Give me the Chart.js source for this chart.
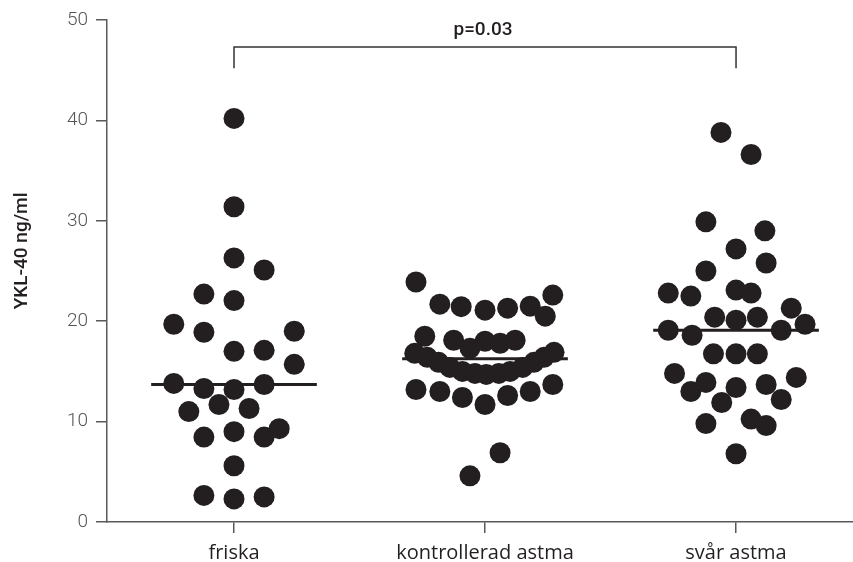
<!DOCTYPE html>
<html>
<head>
<meta charset="utf-8">
<script src="https://cdn.jsdelivr.net/npm/chart.js@4"></script>
<style>
  html, body { margin: 0; padding: 0; background: #fff; }
  #wrap { width: 853px; height: 562px; }
</style>
</head>
<body>
<div id="wrap"><canvas id="myChart"></canvas></div>
<script>
const categories = ['friska', 'kontrollerad astma', 'svår astma'];
const yTicks = [0, 10, 20, 30, 40, 50];
const yTitle = 'YKL-40 ng/ml';

// friska
const friskaValues = [40.2, 31.4, 26.3, 25.1, 22.7, 22.05, 19.7, 18.9, 19.0, 17.0, 17.1, 15.7,
    13.8, 13.3, 13.2, 13.7, 11.0, 11.7, 11.3, 8.46, 9.0, 8.46, 9.3, 5.6, 2.65, 2.3, 2.5];
const friskaSpread = [0, 0, 0, 0.12, -0.12, 0, -0.24, -0.12, 0.24, 0, 0.12, 0.24,
    -0.24, -0.12, 0, 0.12, -0.18, -0.06, 0.06, -0.12, 0, 0.12, 0.18, 0, -0.12, 0, 0.12];

// kontrollerad astma
const kontrollValues = [23.9, 21.7, 21.45, 21.1, 21.3, 21.5, 22.6, 20.5,
    18.5, 18.1, 17.3, 18.0, 17.8, 18.1,
    16.8, 16.4, 15.9, 15.4, 15.0, 14.8, 14.7, 14.8, 15.0, 15.4, 15.9, 16.4, 16.9,
    13.2, 13.0, 12.4, 11.7, 12.6, 13.0, 13.7, 6.9, 4.6];
const kontrollSpread = [-0.275, -0.18, -0.095, 0, 0.09, 0.18, 0.27, 0.24,
    -0.24, -0.125, -0.06, 0, 0.06, 0.12,
    -0.28, -0.23, -0.185, -0.14, -0.09, -0.04, 0.005, 0.055, 0.1, 0.15, 0.195, 0.235, 0.275,
    -0.275, -0.18, -0.09, 0, 0.09, 0.18, 0.27, 0.06, -0.06];

// svår astma
const svarValues = [38.8, 36.6, 29.9, 29.0, 27.2, 25.8, 25.0, 22.8, 22.5, 23.1, 22.8, 21.3,
    20.4, 20.1, 20.4, 19.7, 19.1, 18.6, 19.1, 16.75, 16.75, 16.75,
    14.8, 13.0, 13.9, 13.4, 13.7, 14.4, 11.9, 12.2, 9.8, 10.25, 9.6, 6.8];
const svarSpread = [-0.06, 0.06, -0.12, 0.115, 0, 0.12, -0.12, -0.27, -0.18, 0, 0.06, 0.22,
    -0.085, 0, 0.085, 0.275, -0.27, -0.175, 0.18, -0.09, 0, 0.085,
    -0.245, -0.18, -0.12, 0, 0.12, 0.24, -0.057, 0.18, -0.12, 0.06, 0.12, 0];

const medians = [13.7, 16.25, 19.1];
const pLabel = 'p=0.03';
const bracket = {from: 1, to: 3, low: 45.2, high: 47.3};

const groups = [
    [friskaValues, friskaSpread],
    [kontrollValues, kontrollSpread],
    [svarValues, svarSpread]
];

const ink = '#231f20';
const axisGrey = '#58595b';

const datasets = [];
groups.forEach(([vals, spread], i) => {
    datasets.push({
        type: 'scatter',
        data: vals.map((v, j) => ({x: i + 1 + spread[j], y: v})),
        backgroundColor: ink,
        borderWidth: 0,
        pointRadius: 10.5,
        pointHoverRadius: 10.5
    });
});
medians.forEach((m, i) => {
    datasets.push({
        type: 'line',
        data: [{x: i + 1 - 0.33, y: m}, {x: i + 1 + 0.33, y: m}],
        borderColor: ink,
        borderWidth: 3,
        pointRadius: 0
    });
});
datasets.push({
    type: 'line',
    data: [
        {x: bracket.from, y: bracket.low}, {x: bracket.from, y: bracket.high},
        {x: bracket.to, y: bracket.high}, {x: bracket.to, y: bracket.low}
    ],
    borderColor: '#333',
    borderWidth: 1.5,
    pointRadius: 0
});

// p value above the bracket and the y title (placed a bit above centre, as in the source)
const extraText = {
    id: 'extraText',
    afterDatasetsDraw(chart) {
        const {ctx, scales} = chart;
        ctx.save();
        ctx.fillStyle = ink;
        ctx.textAlign = 'center';
        ctx.textBaseline = 'middle';
        ctx.font = '500 19px Roboto';
        ctx.fillText(pLabel, scales.x.getPixelForValue((bracket.from + bracket.to) / 2) - 2, 30);
        ctx.translate(22, scales.y.getPixelForValue(27));
        ctx.rotate(-Math.PI / 2);
        ctx.fillText(yTitle, 0, 0);
        ctx.restore();
    }
};

new Chart(document.getElementById('myChart'), {
    data: {datasets},
    plugins: [extraText],
    options: {
        responsive: true,
        maintainAspectRatio: false,
        animation: false,
        layout: {autoPadding: false, padding: {top: 20, right: 0, left: 0, bottom: 0}},
        plugins: {legend: {display: false}, tooltip: {enabled: false}},
        scales: {
            x: {
                type: 'linear',
                min: 0.494,
                max: 3.466,
                afterBuildTicks: s => { s.ticks = categories.map((c, i) => ({value: i + 1})); },
                afterFit: s => { s.height = 40; s.paddingLeft = 0; s.paddingRight = 0; },
                ticks: {
                    callback: v => categories[v - 1],
                    color: ink,
                    font: {family: '"Open Sans"', size: 20, weight: '500'},
                    padding: 8,
                    maxRotation: 0
                },
                grid: {drawOnChartArea: false, tickLength: 11, color: axisGrey, lineWidth: 1.5},
                border: {color: axisGrey, width: 1.5}
            },
            y: {
                min: 0,
                max: 50,
                afterBuildTicks: s => { s.ticks = yTicks.map(v => ({value: v})); },
                afterFit: s => { s.width = 107; },
                ticks: {
                    color: '#555',
                    font: {family: 'Roboto', size: 19, weight: '300'},
                    padding: 8
                },
                grid: {drawOnChartArea: false, tickLength: 11, color: axisGrey, lineWidth: 1.5},
                border: {color: axisGrey, width: 1.5}
            }
        }
    }
});
</script>
</body>
</html>
